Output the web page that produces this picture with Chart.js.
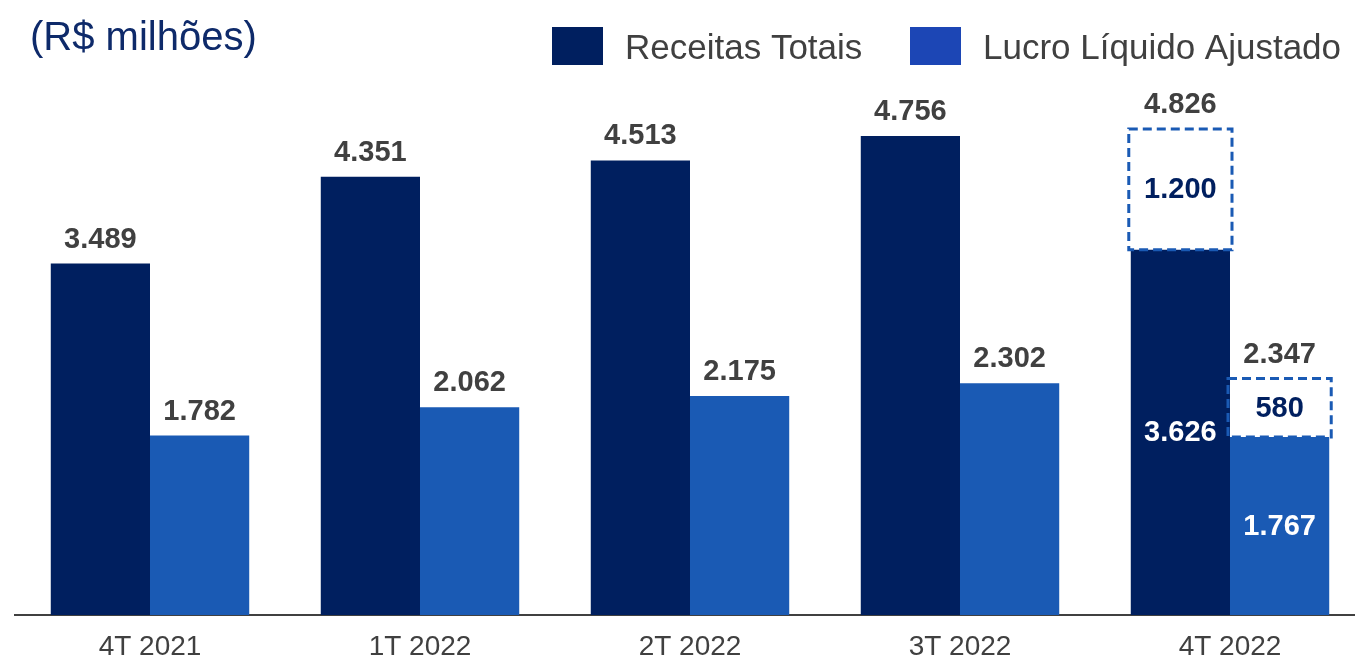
<!DOCTYPE html>
<html><head><meta charset="utf-8">
<script src="https://cdn.jsdelivr.net/npm/chart.js@4/dist/chart.umd.min.js"></script>
<style>html,body{margin:0;padding:0;background:#fff;overflow:hidden}#wrap{position:relative;width:1355px;height:658px;overflow:hidden}canvas{display:block}</style>
</head><body><div id="wrap"><canvas id="c" width="1365" height="658"></canvas></div>
<script>
const categories = ['4T 2021','1T 2022','2T 2022','3T 2022','4T 2022'];
const receitasBase = [3489, 4351, 4513, 4756, 3626];
const receitasExtra = [null, null, null, null, 1200];
const lucroBase = [1782, 2062, 2175, 2302, 1767];
const lucroExtra = [null, null, null, null, 580];
const seriesNames = ['Receitas Totais', 'Lucro Líquido Ajustado'];
const titleText = '(R$ milhões)';

const NAVY = '#001F5F', BLUE = '#1A5AB4', LEGEND_BLUE = '#1C46B5', GRAY = '#404040', TITLE = '#0E2A6A';
const FONT = '"Liberation Sans", Arial, sans-serif';
const fmt = v => String(v).replace(/\B(?=(\d{3})+(?!\d))/g, '.');

const overlay = {
  id: 'overlay',
  afterDatasetsDraw(chart) {
    const ctx = chart.ctx;
    const m = [0,1,2,3].map(i => chart.getDatasetMeta(i));
    ctx.save();
    [[1, receitasExtra],[3, lucroExtra]].forEach(([di, arr]) => {
      arr.forEach((v, i) => {
        if (v == null) return;
        const el = m[di].data[i].getProps(['x','y','base','width'], true);
        ctx.setLineDash([9, 5]);
        ctx.lineWidth = 3;
        ctx.strokeStyle = BLUE;
        ctx.strokeRect(el.x - el.width/2 - 2, el.y, el.width + 4, el.base - el.y);
        ctx.setLineDash([]);
      });
    });
    ctx.textAlign = 'center';
    ctx.textBaseline = 'alphabetic';
    ctx.font = 'bold 29px ' + FONT;
    const groups = [[0, 1, receitasBase, receitasExtra], [2, 3, lucroBase, lucroExtra]];
    groups.forEach(([bi, ei, base, extra]) => {
      base.forEach((v, i) => {
        const b = m[bi].data[i].getProps(['x','y','base','width'], true);
        if (extra[i] != null) {
          const e = m[ei].data[i].getProps(['x','y','base','width'], true);
          ctx.fillStyle = GRAY;
          ctx.fillText(fmt(v + extra[i]), e.x, e.y - 16);
          ctx.textBaseline = 'middle';
          ctx.fillStyle = NAVY;
          ctx.fillText(fmt(extra[i]), e.x, (e.y + e.base)/2 + 1);
          ctx.fillStyle = '#ffffff';
          ctx.fillText(fmt(v), b.x, (b.y + b.base)/2 + 1);
          ctx.textBaseline = 'alphabetic';
        } else {
          ctx.fillStyle = GRAY;
          ctx.fillText(fmt(v), b.x, b.y - 16);
        }
      });
    });
    ctx.restore();
  },
  afterDraw(chart) {
    const ctx = chart.ctx;
    ctx.save();
    ctx.textBaseline = 'alphabetic';
    ctx.textAlign = 'left';
    ctx.fillStyle = TITLE;
    ctx.font = '40px ' + FONT;
    ctx.fillText(titleText, 30, 50);
    const items = [[552, NAVY, 625], [910, LEGEND_BLUE, 983]];
    ctx.font = '35px ' + FONT;
    items.forEach(([x, col, tx], k) => {
      ctx.fillStyle = col;
      ctx.fillRect(x, 27, 51, 38);
      ctx.fillStyle = GRAY;
      ctx.fillText(seriesNames[k], tx, 59);
    });
    ctx.restore();
  }
};

new Chart(document.getElementById('c'), {
  type: 'bar',
  data: {
    labels: categories,
    datasets: [
      { label: seriesNames[0], data: receitasBase, stack: 'r', backgroundColor: NAVY, borderWidth: 0 },
      { label: seriesNames[0] + ' extra', data: receitasExtra, stack: 'r', backgroundColor: 'rgba(255,255,255,0)', borderWidth: 0 },
      { label: seriesNames[1], data: lucroBase, stack: 'l', backgroundColor: BLUE, borderWidth: 0 },
      { label: seriesNames[1] + ' extra', data: lucroExtra, stack: 'l', backgroundColor: 'rgba(255,255,255,0)', borderWidth: 0 }
    ]
  },
  options: {
    responsive: false,
    animation: false,
    devicePixelRatio: 1,
    categoryPercentage: 0.735,
    barPercentage: 1,
    layout: { padding: { left: 15, right: 0, top: 61, bottom: 0 } },
    plugins: { legend: { display: false }, tooltip: { enabled: false }, title: { display: false } },
    scales: {
      x: {
        stacked: true,
        grid: { display: false, drawTicks: false },
        border: { display: true, color: GRAY, width: 2 },
        ticks: { color: GRAY, font: { family: FONT, size: 28 }, padding: 15, maxRotation: 0 },
        afterFit(scale) { scale.height = 43; }
      },
      y: {
        stacked: true,
        display: false,
        min: 0,
        max: 5500
      }
    }
  },
  plugins: [overlay]
});
</script>
</body></html>
